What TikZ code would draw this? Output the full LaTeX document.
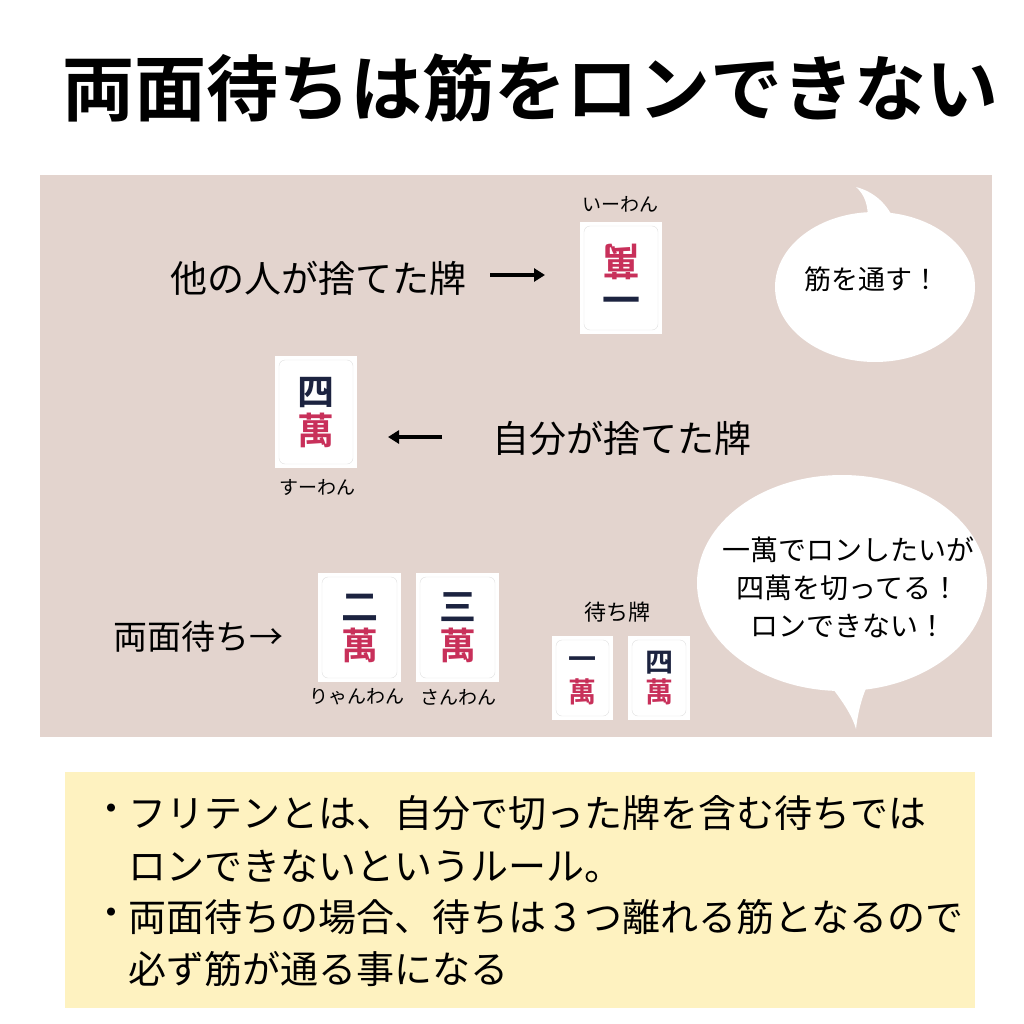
\documentclass[tikz,border=0pt]{standalone}
\usepackage{fontspec}
\newfontfamily\jp{Noto Sans CJK JP}
\newfontfamily\jpb{Noto Sans CJK JP Bold}
\definecolor{panel}{HTML}{E3D4CE}
\definecolor{note}{HTML}{FEF2C0}
\definecolor{manred}{HTML}{C8305A}
\definecolor{navy}{HTML}{1C2340}
\tikzset{
 jt/.style={font=\jp\fontsize{#1}{#1}\selectfont,text=black,inner sep=0pt},
 bubble/.style={fill=white},
}
\usetikzlibrary{calc,arrows.meta}
\newcommand{\tileat}[7]{% name x1 y1 x2 y2 numeral size
 \fill[white] (#2,#3) rectangle (#4,#5);
 \draw[black!12,rounded corners=6] ($(#2,#3)+(4,4)$) rectangle ($(#4,#5)+(-4,-4)$);
 \coordinate (#1) at ($(#2,#3)!0.5!(#4,#5)$);
 \node[font=\jpb\fontsize{#7}{#7}\selectfont,text=navy,inner sep=0pt] at ($(#1)+(0,-0.24*#4+0.24*#2)$) {#6};
 \node[font=\jpb\fontsize{#7}{#7}\selectfont,text=manred,inner sep=0pt] at ($(#1)+(0,0.22*#4-0.22*#2)$) {萬};
}
\begin{document}
\begin{tikzpicture}[x=1pt,y=-1pt]
\useasboundingbox (0,0) rectangle (1024,1024);
\fill[white] (0,0) rectangle (1024,1024);
\node[font=\jpb\fontsize{72}{72}\selectfont,inner sep=0pt] (title) at (530,88) {両面待ちは筋をロンできない};
\fill[panel] (40,175) rectangle (992,737);
\fill[note] (65,772) rectangle (975,1008);
% tile 1 (upside down)
\fill[white] (580,222) rectangle (662,334);
\draw[black!12,rounded corners=6] (584,226) rectangle (658,330);
\node[font=\jpb\fontsize{38}{38}\selectfont,text=manred,rotate=180,inner sep=0pt] (t1a) at (621,262) {萬};
\node[font=\jpb\fontsize{38}{38}\selectfont,text=navy,inner sep=0pt] (t1b) at (621,306) {一};
\node[jt=19] (l1) at (620,204) {いーわん};
\tileat{t2}{275}{356}{357}{468}{四}{37}
\node[jt=19] (l2) at (317,487) {すーわん};
\tileat{t3}{318}{573}{401}{682}{二}{37}
\tileat{t4}{416}{573}{499}{682}{三}{37}
\node[jt=19] (l3) at (357,697) {りゃんわん};
\node[jt=19] (l4) at (458,697) {さんわん};
\tileat{t5}{552}{636}{613}{720}{一}{28}
\tileat{t6}{628}{636}{690}{720}{四}{28}
\node[jt=22] (l5) at (617,612) {待ち牌};
\node[jt=37] (a) at (318,278) {他の人が捨てた牌};
\coordinate (a1) at (490,275); \coordinate (a2) at (545,275);
\draw[line width=3.5,-{Triangle[length=11,width=13]}] (a1) -- (a2);
\node[jt=37] (b) at (622,438) {自分が捨てた牌};
\coordinate (b1) at (442,437); \coordinate (b2) at (388,437);
\draw[line width=3.5,-{Triangle[length=11,width=13]}] (b1) -- (b2);
\node[jt=34] (c) at (198,637) {両面待ち→};
% bubble 1
\fill[bubble] (875,287) ellipse [x radius=100, y radius=75];
\fill[bubble] (868,220) .. controls (868,205) and (865,195) .. (856,187) .. controls (875,192) and (888,205) .. (895,222) -- cycle;
\node[jt=27] (s1) at (872,279) {筋を通す！};
% bubble 2
\fill[bubble] (842,583) ellipse [x radius=145, y radius=108];
\fill[bubble] (826,680) .. controls (842,700) and (852,715) .. (856,729) .. controls (858,712) and (862,695) .. (870,680) -- cycle;
\node[align=center,inner sep=0pt,font=\jp\fontsize{28}{38}\selectfont] (s2) at (848,587) {一萬でロンしたいが\\四萬を切ってる！\\ロンできない！};
% notes
\begin{scope}[every node/.style={jt=38,anchor=west}]
\node (n0) at (92,813) {・};
\node (n1) at (128,813) {フリテンとは、自分で切った牌を含む待ちでは};
\node (n2) at (128,866) {ロンできないというルール。};
\node (n3) at (92,917) {・};
\node (n4) at (128,917) {両面待ちの場合、待ちは３つ離れる筋となるので};
\node (n5) at (128,969) {必ず筋が通る事になる};
\end{scope}
\end{tikzpicture}
\end{document}
